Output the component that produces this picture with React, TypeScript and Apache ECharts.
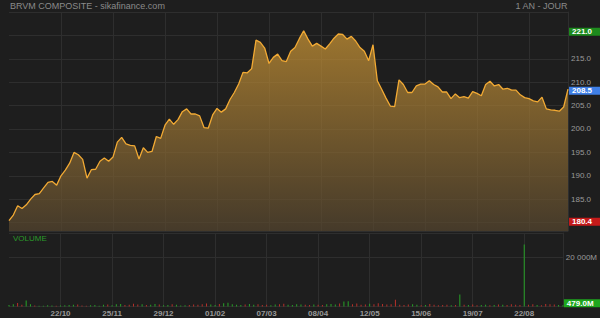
import React, { useEffect, useRef } from "react";
import * as echarts from "echarts";

const titleText = "BRVM COMPOSITE - sikafinance.com";
const periodText = "1 AN - JOUR";
const volumeTitle = "VOLUME";

// first session shown, then one point every two weekdays
const startDate = [2021, 8, 20];

const dateTickLabels = ["22/10", "25/11", "29/12", "01/02", "07/03", "08/04", "12/05", "15/06", "19/07", "22/08"];
const priceTickLabels = [185, 190, 195, 200, 205, 210, 215];
const volumeTickLabels = [20000];

const prices = [
  180.4, 181.6, 183.6, 183.0, 183.8, 185.0, 186.0, 186.2, 187.4, 188.6,
  188.8, 188.0, 190.0, 191.2, 192.7, 195.0, 194.5, 193.5, 189.5, 191.3,
  191.4, 193.1, 193.8, 193.1, 194.0, 197.2, 198.2, 196.8, 196.5, 196.4,
  193.6, 196.0, 195.0, 195.2, 198.4, 198.0, 200.8, 202.1, 201.0, 202.0,
  203.7, 204.3, 203.2, 203.2, 202.8, 200.3, 200.2, 203.0, 204.4, 203.6,
  204.3, 206.3, 207.8, 209.6, 212.1, 212.0, 212.9, 219.0, 218.5, 217.3,
  214.0, 215.3, 216.0, 214.6, 214.4, 216.6, 217.4, 219.3, 221.0, 219.2,
  217.7, 218.3, 217.7, 217.1, 218.2, 219.4, 220.3, 220.2, 219.2, 219.8,
  218.8, 217.4, 216.6, 214.6, 218.0, 210.3, 208.5, 206.6, 204.9, 204.8,
  210.5, 209.5, 207.8, 207.8, 209.2, 209.6, 209.6, 210.3, 209.5, 209.0,
  207.9, 207.9, 206.5, 207.5, 206.7, 206.9, 206.6, 208.0, 207.6, 207.1,
  209.5, 210.2, 209.2, 209.5, 208.5, 208.7, 208.3, 208.3, 207.3, 206.7,
  206.5, 206.0, 205.8, 206.8, 204.3, 204.1, 204.0, 203.8, 204.7, 208.5,
];

// volumes in millions
const volumes = [
  600, 900, 1400, 700, 2500, 900, 400, 300, 350, 500,
  400, 300, 450, 500, 600, 700, 800, 400, 350, 500,
  600, 300, 700, 800, 500, 900, 1000, 600, 700, 1100,
  800, 900, 600, 700, 1000, 800, 500, 600, 900, 700,
  400, 500, 600, 800, 700, 900, 1200, 800, 600, 1000,
  1300, 1500, 900, 700, 600, 800, 1000, 700, 900, 600,
  700, 500, 800, 900, 1100, 700, 600, 900, 800, 700,
  600, 800, 700, 600, 900, 1000, 800, 1200, 2000, 2100,
  900, 1200, 700, 800, 1100, 900, 1300, 1000, 800, 900,
  2800, 700, 600, 800, 900, 700, 500, 600, 1000, 700,
  500, 600, 700, 500, 600, 4900, 700, 600, 800, 500,
  600, 700, 500, 600, 800, 700, 600, 900, 700, 600,
  25300, 700, 900, 600, 500, 1000, 900, 800, 600, 479,
];

// 1 = up session (green), 0 = down session (red)
const volumeUp = [
  1, 1, 0, 0, 1, 1, 0, 1, 1, 1,
  1, 0, 1, 1, 1, 1, 0, 0, 0, 1,
  1, 1, 1, 0, 1, 1, 1, 0, 0, 0,
  0, 1, 0, 1, 1, 0, 1, 1, 0, 1,
  1, 1, 0, 0, 0, 0, 0, 1, 1, 0,
  1, 1, 1, 1, 1, 0, 1, 1, 0, 0,
  0, 1, 1, 0, 0, 1, 1, 1, 1, 0,
  0, 1, 0, 0, 1, 1, 1, 0, 1, 1,
  0, 0, 0, 0, 1, 0, 0, 0, 0, 0,
  0, 0, 0, 0, 1, 1, 0, 1, 0, 0,
  0, 0, 0, 1, 0, 1, 0, 1, 0, 0,
  1, 1, 0, 1, 0, 1, 0, 0, 0, 0,
  1, 0, 0, 1, 0, 0, 0, 0, 1, 1,
];

const lastPrice = 208.5;
const highPrice = 221.0;
const lowPrice = 180.4;
const lastVolume = 479.0;

function pad(n: number) {
  return n < 10 ? "0" + n : String(n);
}

function buildDates(count: number): string[] {
  const out: string[] = [];
  const d = new Date(Date.UTC(startDate[0], startDate[1], startDate[2]));
  let k = 0;
  while (out.length < count) {
    const wd = d.getUTCDay();
    if (wd !== 0 && wd !== 6) {
      if (k % 2 === 0) out.push(pad(d.getUTCDate()) + "/" + pad(d.getUTCMonth() + 1) + "/" + d.getUTCFullYear());
      k++;
    }
    d.setUTCDate(d.getUTCDate() + 1);
  }
  return out;
}

const FONT = "Liberation Sans, Arial, sans-serif";
const GRID_LINE = "#2e2e2e";
const AXIS_TEXT = "#9a9a9a";
const UP = "#27a327";
const DOWN = "#b8302a";

export default function App() {
  const ref = useRef<HTMLDivElement>(null);

  useEffect(() => {
    if (!ref.current) return;
    const chart = echarts.init(ref.current, null, { renderer: "svg" });
    const dates = buildDates(prices.length);
    const tickSet = new Set(dateTickLabels);
    const isTick = (_i: number, v: string) => tickSet.has(String(v).slice(0, 5));

    const boxLabel = (text: string, bg: string, dy = 0) => ({
      show: true,
      position: "end",
      distance: 1,
      offset: [0, dy],
      formatter: text,
      backgroundColor: bg,
      color: "#ffffff",
      fontFamily: FONT,
      fontSize: 8,
      fontWeight: "bold",
      padding: [0, 10, 0, 3],
      lineHeight: 8,
    });

    const option: any = {
      animation: false,
      backgroundColor: "#1e1e1e",
      textStyle: { fontFamily: FONT },
      graphic: [
        {
          type: "text",
          left: 10,
          top: 1,
          style: { text: titleText, fill: "#8a8a8a", font: "9px " + FONT },
        },
        {
          type: "text",
          right: 32,
          top: 1,
          style: { text: periodText, fill: "#8a8a8a", font: "9px " + FONT },
        },
        {
          type: "text",
          left: 13,
          top: 234,
          style: { text: volumeTitle, fill: "#2a9a2a", font: "8px " + FONT },
        },
      ],
      grid: [
        { left: 9, right: 32, top: 12, height: 219 },
        { left: 9, right: 32, top: 233, height: 73.5 },
      ],
      xAxis: [
        {
          type: "category",
          gridIndex: 0,
          data: dates,
          boundaryGap: false,
          axisLine: { show: false },
          axisTick: { show: false },
          axisLabel: { show: false },
          splitLine: { show: true, interval: isTick, lineStyle: { color: GRID_LINE, width: 1 } },
        },
        {
          type: "category",
          gridIndex: 1,
          data: dates,
          boundaryGap: false,
          axisLine: { show: false },
          axisTick: { show: false },
          axisLabel: {
            interval: isTick,
            formatter: (v: string) => String(v).slice(0, 5),
            color: AXIS_TEXT,
            fontSize: 8,
            fontWeight: "bold",
            fontFamily: FONT,
            margin: 3,
          },
          splitLine: { show: true, interval: isTick, lineStyle: { color: GRID_LINE, width: 1 } },
        },
      ],
      yAxis: [
        {
          type: "value",
          gridIndex: 0,
          position: "right",
          min: 178.2,
          max: 225,
          splitNumber: 9,
          axisLine: { show: true, lineStyle: { color: GRID_LINE } },
          axisTick: { show: false },
          axisLabel: {
            margin: 3,
            color: AXIS_TEXT,
            fontSize: 8,
            fontFamily: FONT,
            lineHeight: 8,
            formatter: (v: number) => (priceTickLabels.some((t) => Math.abs(t - v) < 1e-6) ? v.toFixed(1) : ""),
          },
          splitLine: { show: true, lineStyle: { color: GRID_LINE, width: 1 } },
        },
        {
          type: "value",
          gridIndex: 1,
          position: "right",
          min: 0,
          max: 30000,
          interval: 20000,
          axisLine: { show: true, lineStyle: { color: GRID_LINE } },
          axisTick: { show: false },
          axisLabel: {
            margin: 3,
            color: AXIS_TEXT,
            fontSize: 8,
            fontFamily: FONT,
            formatter: (v: number) => (volumeTickLabels.indexOf(v) >= 0 ? "20 000M" : ""),
          },
          splitLine: { show: true, lineStyle: { color: GRID_LINE, width: 1 } },
        },
      ],
      series: [
        {
          type: "line",
          xAxisIndex: 0,
          yAxisIndex: 0,
          data: prices,
          symbol: "none",
          lineStyle: { color: "#f2aa34", width: 1.3 },
          areaStyle: {
            origin: "start",
            color: new echarts.graphic.LinearGradient(0, 0, 0, 1, [
              { offset: 0, color: "#d29a36" },
              { offset: 1, color: "#56462f" },
            ]),
          },
          markLine: {
            silent: true,
            symbol: "none",
            animation: false,
            lineStyle: { color: "rgba(0,0,0,0)", width: 0, type: "solid" },
            data: [
              { yAxis: highPrice, label: boxLabel(highPrice.toFixed(1), "#1d8a1d", 1) },
              { yAxis: lastPrice, label: boxLabel(lastPrice.toFixed(1), "#3f7fe6", 1.5) },
              { yAxis: lowPrice, label: boxLabel(lowPrice.toFixed(1), "#c41a1a", 1) },
            ],
          },
        },
        {
          type: "bar",
          xAxisIndex: 1,
          yAxisIndex: 1,
          barWidth: 1,
          data: volumes.map((v, i) => ({ value: v, itemStyle: { color: volumeUp[i] ? UP : DOWN } })),
          markLine: {
            silent: true,
            symbol: "none",
            animation: false,
            lineStyle: { color: "rgba(0,0,0,0)", width: 0, type: "solid" },
            data: [{ yAxis: lastVolume, label: boxLabel(lastVolume.toFixed(1) + "M", "#1ea61e", -2) }],
          },
        },
      ],
    };

    chart.setOption(option);
    return () => chart.dispose();
  }, []);

  return (
    <div
      ref={ref}
      style={{ position: "fixed", left: 0, top: 0, width: 600, height: 318 }}
    />
  );
}
